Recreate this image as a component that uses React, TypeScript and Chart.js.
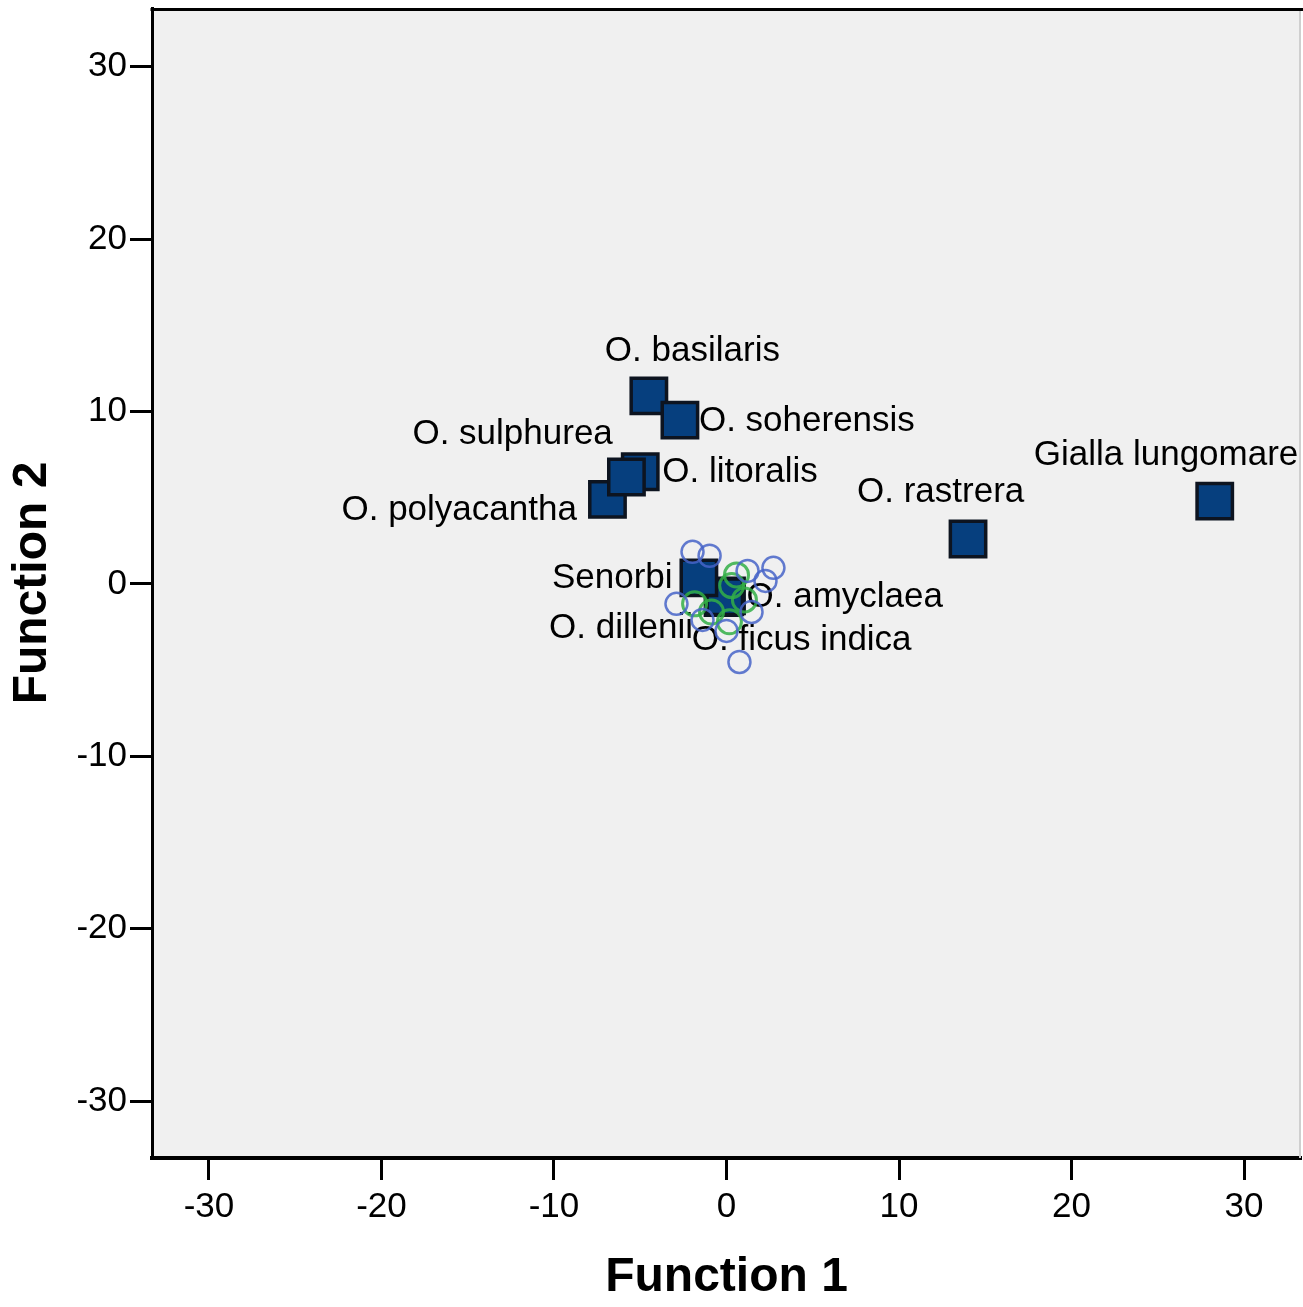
import React, { useEffect, useRef } from "react";
import { Chart, registerables } from "chart.js";

Chart.register(...registerables);

// Group centroids (Function 1, Function 2)
const centroidNames = [
  "O. basilaris",
  "O. soherensis",
  "O. litoralis",
  "O. polyacantha",
  "O. sulphurea",
  "O. rastrera",
  "Gialla lungomare",
  "O. amyclaea",
  "O. dillenii",
  "O. ficus indica",
  "Senorbi",
];
const centroidF1 = [-4.5, -2.7, -5.0, -6.9, -5.8, 14.0, 28.3, 0.0, -0.2, -0.1, -1.6];
const centroidF2 = [10.9, 9.5, 6.5, 4.9, 6.2, 2.6, 4.8, -0.7, -0.8, -0.75, 0.35];

// label placement offsets in px relative to centroid (left edge of text, vertical middle)
const labelDx = [-44, 19, 22, -266, -214, -111, -181, 20, -174, -33, -147];
const labelDy = [-45, 1, 1, 11, -43, -47, -46, 1, 31, 44, 1];

// Individual cases (two visible groups)
const caseBlueF1 = [-1.97, -0.98, 2.72, 2.26, -2.9, 0.0, 0.75, 1.45, -1.39, 1.22];
const caseBlueF2 = [1.86, 1.63, 0.93, 0.17, -1.16, -2.73, -4.53, -1.63, -2.09, 0.75];
const caseGreenF1 = [0.58, -1.85, 0.17, 1.04, -0.87, 0.3];
const caseGreenF2 = [0.52, -1.16, -2.2, -0.93, -1.63, -0.1];

const tickValues = [-30, -20, -10, 0, 10, 20, 30];
const axisTitleX = "Function 1";
const axisTitleY = "Function 2";

const FONT = "'Liberation Sans', Arial, sans-serif";

export default function App() {
  const canvasRef = useRef<HTMLCanvasElement | null>(null);

  useEffect(() => {
    document.body.style.margin = "0";
    const canvas = canvasRef.current;
    if (!canvas) return;

    const bgPlugin = {
      id: "bgPlugin",
      beforeDraw(chart: any) {
        const { ctx, chartArea } = chart;
        ctx.save();
        ctx.fillStyle = "#f0f0f0";
        ctx.fillRect(chartArea.left, chartArea.top, chartArea.right - chartArea.left, chartArea.bottom - chartArea.top);
        ctx.restore();
      },
      afterDraw(chart: any) {
        const { ctx, chartArea } = chart;
        ctx.save();
        ctx.strokeStyle = "#000";
        ctx.lineWidth = 3;
        ctx.beginPath();
        ctx.moveTo(chartArea.left - 1.5, chartArea.top + 1.5);
        ctx.lineTo(chartArea.right + 2, chartArea.top + 1.5);
        ctx.stroke();
        ctx.strokeStyle = "#cfcfcf";
        ctx.lineWidth = 2;
        ctx.beginPath();
        ctx.moveTo(chartArea.right - 1, chartArea.top + 3);
        ctx.lineTo(chartArea.right - 1, chartArea.bottom);
        ctx.stroke();
        ctx.restore();
      },
    };

    const labelPlugin = {
      id: "labelPlugin",
      beforeDatasetDraw(chart: any, args: any) {
        if (args.index !== 2) return;
        const { ctx } = chart;
        const xs = chart.scales.x;
        const ys = chart.scales.y;
        ctx.save();
        ctx.font = `35px ${FONT}`;
        ctx.fillStyle = "#000";
        ctx.textAlign = "left";
        ctx.textBaseline = "middle";
        centroidNames.forEach((name, i) => {
          const px = xs.getPixelForValue(centroidF1[i]) + labelDx[i];
          const py = ys.getPixelForValue(centroidF2[i]) + labelDy[i];
          ctx.fillText(name, px, py);
        });
        ctx.restore();
      },
    };

    const tickFont = { size: 35, family: FONT };

    const chart = new Chart(canvas, {
      type: "scatter",
      data: {
        datasets: [
          {
            label: "cases A",
            data: caseBlueF1.map((v, i) => ({ x: v, y: caseBlueF2[i] })),
            pointStyle: "circle",
            pointRadius: 11,
            borderWidth: 2.5,
            borderColor: "rgba(70,100,200,0.85)",
            backgroundColor: "rgba(0,0,0,0)",
          },
          {
            label: "cases B",
            data: caseGreenF1.map((v, i) => ({ x: v, y: caseGreenF2[i] })),
            pointStyle: "circle",
            pointRadius: 12,
            borderWidth: 3,
            borderColor: "rgba(50,175,70,0.85)",
            backgroundColor: "rgba(0,0,0,0)",
          },
          {
            label: "Group centroids",
            data: centroidF1.map((v, i) => ({ x: v, y: centroidF2[i] })),
            pointStyle: "rect",
            pointRadius: 25,
            borderWidth: 3.5,
            borderColor: "#0d1420",
            backgroundColor: "#063f7e",
          },
        ],
      },
      options: {
        responsive: false,
        animation: false,
        events: [],
        layout: { autoPadding: false, padding: { top: 8, right: 2, left: 0, bottom: 0 } },
        plugins: {
          legend: { display: false },
          tooltip: { enabled: false },
        },
        scales: {
          x: {
            type: "linear",
            position: "bottom",
            min: -33.3,
            max: 33.3,
            afterBuildTicks: (s: any) => {
              s.ticks = tickValues.map((v) => ({ value: v }));
            },
            afterFit: (s: any) => {
              s.height = 149;
              s.paddingLeft = 0;
              s.paddingRight = 0;
            },
            ticks: { font: tickFont, color: "#000", padding: 6, maxRotation: 0, includeBounds: false },
            grid: { drawOnChartArea: false, tickLength: 22, tickWidth: 3, tickColor: "#000" },
            border: { display: true, width: 4, color: "#000" },
            title: {
              display: true,
              text: axisTitleX,
              color: "#000",
              font: { size: 48, weight: "bold", family: FONT },
              padding: { top: 0, bottom: 0 },
            },
          },
          y: {
            type: "linear",
            min: -33.3,
            max: 33.4,
            afterBuildTicks: (s: any) => {
              s.ticks = tickValues.map((v) => ({ value: v }));
            },
            afterFit: (s: any) => {
              s.width = 152;
              s.paddingTop = 0;
              s.paddingBottom = 0;
            },
            ticks: { font: tickFont, color: "#000", padding: 3, includeBounds: false },
            grid: { drawOnChartArea: false, tickLength: 22, tickWidth: 3, tickColor: "#000" },
            border: { display: true, width: 3, color: "#000" },
            title: {
              display: true,
              text: axisTitleY,
              color: "#000",
              font: { size: 48, weight: "bold", family: FONT },
              padding: { top: 4, bottom: 0 },
            },
          },
        },
      } as any,
      plugins: [bgPlugin, labelPlugin],
    });

    return () => {
      chart.destroy();
    };
  }, []);

  return (
    <div style={{ width: 1303, height: 1307 }}>
      <canvas ref={canvasRef} width={1303} height={1307} style={{ display: "block" }} />
    </div>
  );
}
